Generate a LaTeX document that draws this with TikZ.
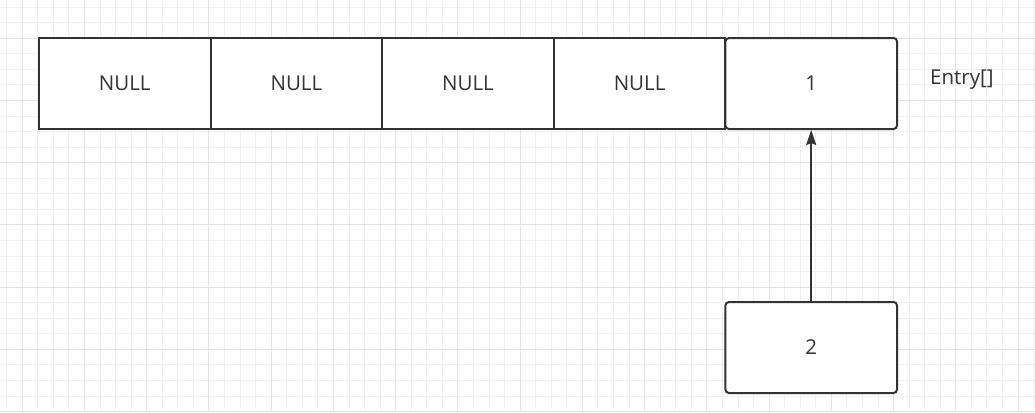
\documentclass[tikz,border=0pt]{standalone}
\usepackage{fontspec}
\setmainfont{Open Sans}
\usetikzlibrary{arrows.meta}
\definecolor{ink}{HTML}{333333}
\definecolor{gridminor}{HTML}{F1F1F1}
\definecolor{gridmajor}{HTML}{E4E4E4}
\begin{document}
\begin{tikzpicture}[x=1bp,y=-1bp,
  cell/.style={draw=ink,line width=2bp,fill=white,minimum width=171.6bp,minimum height=91bp,inner sep=0pt,text=ink,font=\fontsize{20.5bp}{24bp}\selectfont},
  rcell/.style={cell,rounded corners=3.5bp},
  lbl/.style={text=ink,inner sep=0pt,font=\fontsize{20.5bp}{24bp}\selectfont},
  link/.style={draw=ink,line width=2bp,-{Stealth[length=15bp,width=10bp,inset=2bp]}}]
\useasboundingbox[fill=white] (0,0) rectangle (1035,412);
% grid
\foreach \k in {0,...,66}{
  \pgfmathsetmacro\xx{6.7+15.56*\k}
  \draw[gridminor,line width=1bp] (\xx,0) -- (\xx,412);
}
\foreach \k in {0,...,26}{
  \pgfmathsetmacro\yy{7.1+15.56*\k}
  \draw[gridminor,line width=1bp] (0,\yy) -- (1035,\yy);
}
\foreach \k in {1,5,...,65}{
  \pgfmathsetmacro\xx{6.7+15.56*\k}
  \draw[gridmajor,line width=1bp] (\xx,0) -- (\xx,412);
}
\foreach \k in {2,6,...,26}{
  \pgfmathsetmacro\yy{7.1+15.56*\k}
  \draw[gridmajor,line width=1bp] (0,\yy) -- (1035,\yy);
}
% cells
\node[cell] (n1) at (124.8,83.5) {NULL};
\node[cell] (n2) at (296.4,83.5) {NULL};
\node[cell] (n3) at (468.0,83.5) {NULL};
\node[cell] (n4) at (639.6,83.5) {NULL};
\node[rcell] (e1) at (811.2,83.5) {1};
\node[rcell] (e2) at (811.2,347.5) {2};
\node[lbl,anchor=base west] (title) at (930,84) {Entry[]};
\draw[link] (e2.north) -- (e1.south);
\end{tikzpicture}
\end{document}
